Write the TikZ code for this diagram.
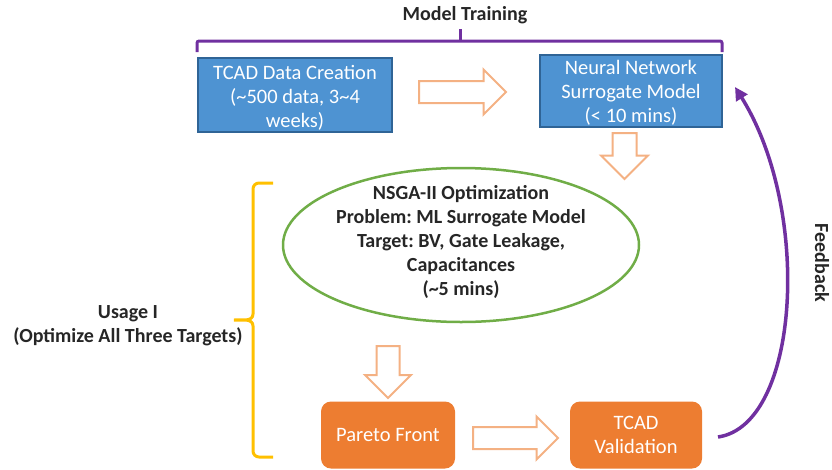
\documentclass[tikz,border=0pt]{standalone}
\usepackage{fontspec}
\setmainfont{Carlito}
\frenchspacing
\usetikzlibrary{shapes.geometric,shapes.arrows,arrows.meta}

\definecolor{boxblue}{HTML}{4E93D2}
\definecolor{boxblueline}{HTML}{2F6496}
\definecolor{boxorange}{HTML}{ED7D31}
\definecolor{arrowpeach}{HTML}{F4B183}
\definecolor{ringgreen}{HTML}{70AD47}
\definecolor{bracepurple}{HTML}{7030A0}
\definecolor{braceyellow}{HTML}{FFC000}
\definecolor{labelgray}{HTML}{262626}

\tikzset{
  bluebox/.style={draw=boxblueline, line width=1.2pt, fill=boxblue,
    inner sep=0pt},
  boxtext/.style={text=white, align=center,
    font=\fontsize{20.5}{24}\selectfont},
  orangebox/.style={fill=boxorange, rounded corners=10pt, text=white,
    align=center, inner sep=0pt, font=\fontsize{20.5}{24}\selectfont},
  hollowarrow/.style={shape=single arrow, draw=arrowpeach, line width=2pt,
    fill=white, inner sep=0pt, text depth=0pt, single arrow tip angle=90,
    single arrow head indent=0pt},
  boldlabel/.style={text=labelgray, align=center,
    font=\bfseries\fontsize{20}{24.2}\selectfont},
}

\begin{document}
\begin{tikzpicture}[x=1pt, y=-1pt]
  \useasboundingbox (0,0) rectangle (832,469);

  % process boxes
  \node[bluebox, minimum width=194pt, minimum height=74pt] (data) at (295,95) {};
  \node[boxtext] (datatext) at (295,98)
    {TCAD Data Creation\\(\textasciitilde500 data, 3\textasciitilde4\\weeks)};
  \node[bluebox, minimum width=182pt, minimum height=72pt] (nn) at (631,91) {};
  \node[boxtext] (nntext) at (631,93)
    {Neural Network\\Surrogate Model\\(< 10 mins)};
  \node[draw=ringgreen, line width=2.5pt, ellipse, minimum width=356pt,
        minimum height=154pt, inner sep=0pt] (nsga) at (461,245) {};
  \node[boldlabel] (nsgatext) at (461,242)
    {NSGA-II Optimization\\Problem: ML Surrogate Model\\Target: BV, Gate Leakage,\\Capacitances\\(\textasciitilde5 mins)};
  \node[orangebox, minimum width=134pt, minimum height=67pt] (pareto) at (388,435)
    {Pareto Front};
  \node[orangebox, minimum width=132pt, minimum height=67pt] (tcadval) at (636,435)
    {TCAD\\Validation};

  % hollow block arrows between the stages
  \node[hollowarrow, text height=20pt, single arrow head extend=11.5pt,
        minimum height=87pt, anchor=tail] (a1) at (418,92) {};
  \node[hollowarrow, text height=22pt, single arrow head extend=11.5pt,
        minimum height=46pt, anchor=tail, rotate=-90] (a2) at (624.5,132) {};
  \node[hollowarrow, text height=21pt, single arrow head extend=11.5pt,
        minimum height=52pt, anchor=tail, rotate=-90] (a3) at (388,345) {};
  \node[hollowarrow, text height=20pt, single arrow head extend=10.5pt,
        minimum height=85pt, anchor=tail] (a4) at (472,438) {};

  % model training bracket
  \coordinate (mtl) at (197,52);
  \coordinate (mtr) at (722,52);
  \coordinate (mtt) at (460,29);
  \draw[bracepurple, line width=3pt, rounded corners=2pt]
    (mtl) -- (197,41) -- (460,41) -- (722,41) -- (mtr);
  \draw[bracepurple, line width=3pt] (460,41) -- (mtt);
  \node[boldlabel] (mtlabel) at (465,15) {Model Training};

  % usage bracket
  \draw[braceyellow, line width=3pt]
    (273,183) -- (259,183) to[out=180,in=90] (253,189) -- (253,314)
    to[out=-90,in=0] (234,320) to[out=0,in=90] (253,326) -- (253,451)
    to[out=-90,in=180] (259,457) -- (273,457);
  \node[boldlabel] (usage) at (128,326) {Usage I\\(Optimize All Three Targets)};

  % feedback loop
  \coordinate (fbstart) at (718,437);
  \coordinate (fbend) at (735,87);
  \draw[bracepurple, line width=3.5pt, -{Triangle[length=13pt,width=13pt]}]
    (fbstart) .. controls (800,425) and (812,210) .. (fbend);
  \node[boldlabel, rotate=-90] (fblabel) at (822,263) {Feedback};
\end{tikzpicture}
\end{document}
